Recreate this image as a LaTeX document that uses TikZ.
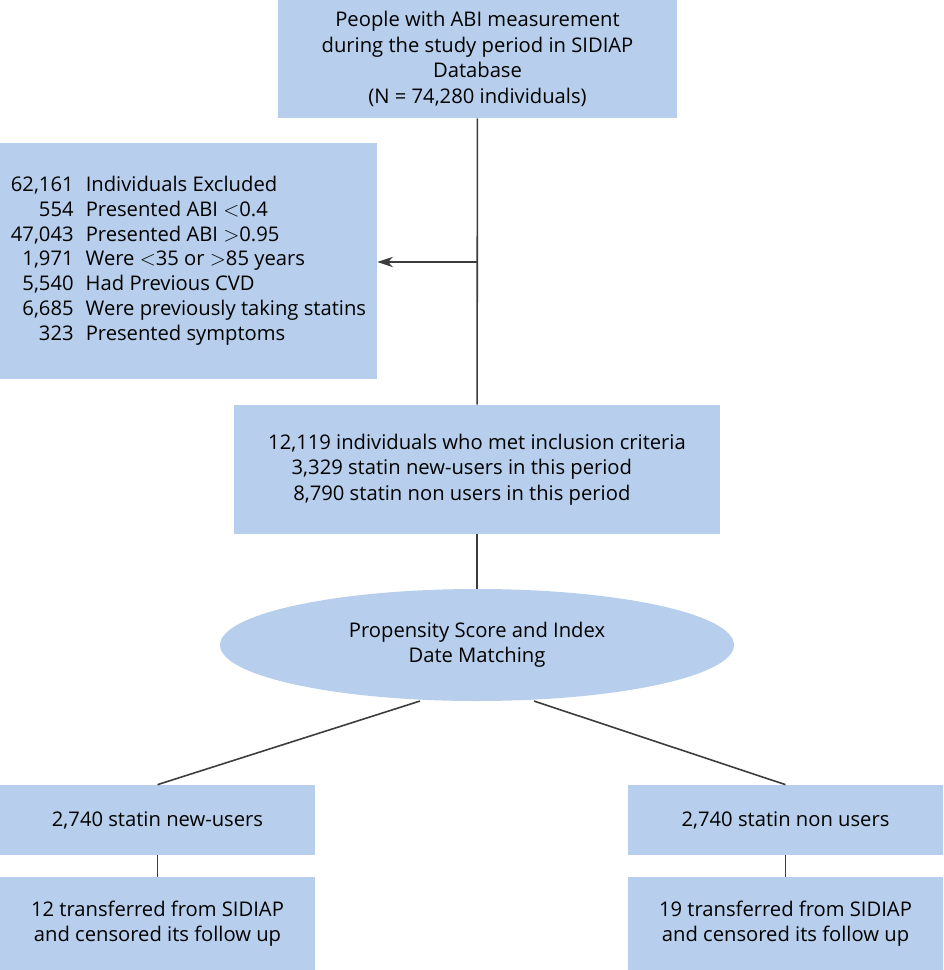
\documentclass[tikz,border=0pt]{standalone}
\usepackage{fontspec}
\setmainfont{Open Sans}
\usetikzlibrary{shapes.geometric,arrows.meta}
\definecolor{boxblue}{HTML}{B7CFEC}
\definecolor{linegray}{HTML}{3C3C3C}
\tikzset{
  box/.style={fill=boxblue, draw=none, align=center, font=\fontsize{11.5}{14.5}\selectfont, inner sep=0pt},
  link/.style={draw=linegray, line width=0.9pt}
}
\begin{document}
\begin{tikzpicture}[x=0.02cm, y=-0.02cm]
	\useasboundingbox (0,0) rectangle (943,970);
	
	\node (db) [box, minimum width=399*0.02cm, minimum height=118*0.02cm] at (477.5,59)
	{People with ABI measurement\\during the study period in SIDIAP\\Database\\(N = 74,280 individuals)};
	
	\node (excl) [box, minimum width=377*0.02cm, minimum height=236*0.02cm] at (188.5,261)
	{\renewcommand{\arraystretch}{0.97}\begin{tabular}{@{}r@{\hspace{0.6em}}l@{}}
	62,161 & Individuals Excluded\\
	554 & Presented ABI $<$0.4\\
	47,043 & Presented ABI $>$0.95\\
	1,971 & Were $<$35 or $>$85 years\\
	5,540 & Had Previous CVD\\
	6,685 & Were previously taking statins\\
	323 & Presented symptoms
	\end{tabular}};
	
	\node (incl) [box, minimum width=486*0.02cm, minimum height=129*0.02cm] at (477,469.5)
	{12,119 individuals who met inclusion criteria\\
	\hspace*{-1.5em}3,329 statin new-users in this period\\
	\hspace*{-1.5em}8,790 statin non users in this period};
	
	\node (match) [box, ellipse, minimum width=514*0.02cm, minimum height=112*0.02cm] at (477,645)
	{Propensity Score and Index\\Date Matching};
	
	\node (new) [box, minimum width=315*0.02cm, minimum height=70*0.02cm] at (157.5,820) {2,740 statin new-users};
	\node (non) [box, minimum width=315*0.02cm, minimum height=70*0.02cm] at (785.5,820) {2,740 statin non users};
	
	\node (newcens) [box, minimum width=315*0.02cm, minimum height=93*0.02cm] at (157.5,923.5)
	{12 transferred from SIDIAP\\and censored its follow up};
	\node (noncens) [box, minimum width=315*0.02cm, minimum height=93*0.02cm] at (785.5,923.5)
	{19 transferred from SIDIAP\\and censored its follow up};
	
	\coordinate (split) at (477,262);
	\draw[link] (db) -- (incl);
	\draw[link, -{Stealth[length=9pt, width=6pt]}] (split) -- (excl.east |- split);
	\draw[link] (incl) -- (match);
	\draw[link] (match.225) ++(-2,1) coordinate (ml) (ml) -- (new.north);
	\draw[link] (match.-45) ++(2,1) coordinate (mr) (mr) -- (non.north);
	\draw[link] (new) -- (newcens);
	\draw[link] (non) -- (noncens);
	
\end{tikzpicture}
\end{document}
